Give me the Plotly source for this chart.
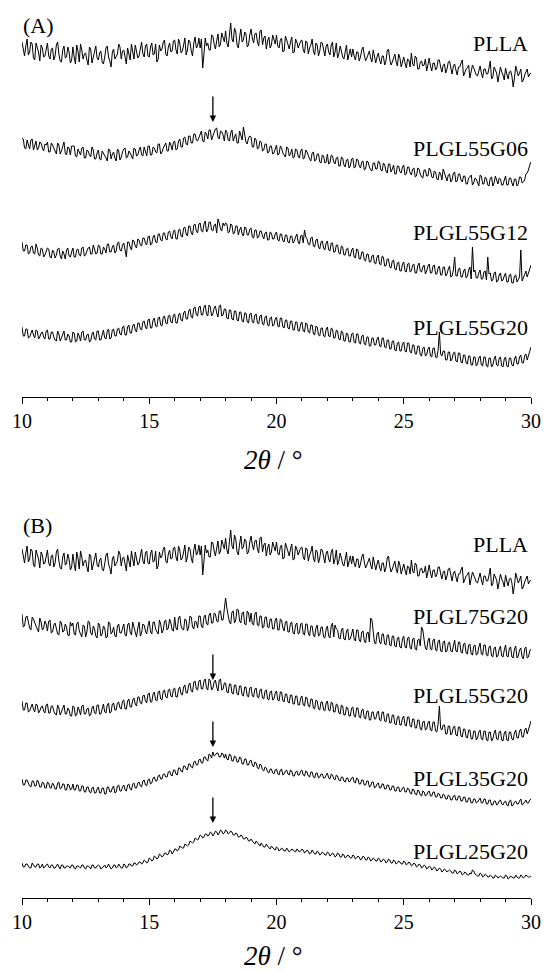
import plotly.graph_objects as go

# 2-theta grid: values read at 0.1 deg steps, plus the in-between (x.x5 deg) readings
two_theta_main = [round(10 + 0.1 * i, 2) for i in range(201)]
two_theta_mid = [round(10.05 + 0.1 * i, 2) for i in range(200)]

# Intensities (a.u., relative)
PLLA = [
    6, -8, 9, -4, 4, -12, 1, -13, 0, -8,
    5, -11, 0, -8, 6, -13, -2, -10, 1, -15,
    1, -16, -3, 4, -11, -5, -17, -1, -9, 2,
    -12, -3, -16, 0, -9, -19, -1, -8, 4, -11,
    -2, -16, -5, 4, -11, -3, -8, 6, -9, 4,
    -9, 5, -6, -14, 3, -1, 8, -8, 5, -3,
    8, -6, 5, -3, 10, -2, 6, -8, 11, 2,
    0, -20, 10, 5, -2, 12, -1, 14, 4, 10,
    17, 1, 25, 6, 16, 0, 19, 8, 14, 3,
    19, 5, 15, 2, 18, 10, -1, 11, 3, 8,
    13, 0, 10, -3, 8, -1, 11, -4, 6, 3,
    8, -5, 6, 0, 9, -7, 3, -3, 5, -8,
    4, -7, 6, -4, -10, 2, -9, -2, -12, -1,
    -1, -12, -4, -9, 1, -13, -5, -10, -2, -15,
    -5, -16, -8, -13, -1, -17, -9, -14, -6, -19,
    -9, -20, -12, -5, -18, -10, -21, -13, -17, -23,
    -10, -23, -15, -20, -12, -24, -16, -21, -13, -26,
    -16, -27, -19, -12, -25, -20, -30, -17, -24, -28,
    -18, -30, -21, -26, -13, -29, -22, -34, -19, -27,
    -20, -31, -23, -39, -18, -28, -21, -32, -24, -29,
    -25,
]
PLLA_mid = [
    -3, 2, -7, 6, -10, 5, -4, 3, -9, 1,
    -8, -1, -12, 3, -6, -14, 2, -9, -4, -12,
    -9, 3, -14, -2, -6, -12, 1, -15, -4, -10,
    -5, -14, -9, 2, -13, -4, -11, -6, 1, -3,
    -8, 0, -12, -6, 3, -10, -1, -6, 2, -8,
    1, -7, 4, -11, -3, 6, -6, 1, -4, 7,
    -2, 9, -5, 3, -7, 8, -3, 5, 0, 10,
    9, -6, 2, -2, 13, 4, 7, 1, 15, 6,
    5, 12, 9, 20, 3, 11, 6, 16, 1, 13,
    10, 14, 6, 17, 3, 12, 7, 0, 13, 4,
    2, 8, -4, 12, 3, 6, -5, 9, 0, 7,
    -2, 7, -6, 3, -3, 5, -8, 6, -1, 2,
    -4, 3, -9, 5, -6, -3, -11, 3, -6, -9,
    -8, -4, -13, -2, -7, -10, -3, -14, -7, -9,
    -12, -8, -17, -3, -11, -14, -6, -18, -10, -13,
    -15, -11, -19, -16, -8, -21, -14, -18, -11, -17,
    -18, -15, -22, -12, -19, -17, -25, -14, -20, -18,
    -22, -19, -15, -28, -21, -17, -24, -20, -27, -22,
    -25, -21, -26, -20, -31, -19, -25, -27, -24, -32,
    -26, -24, -28, -30, -23, -25, -34, -27, -21, -26,
]

PLGL55G06 = [
    5, -5, 3, -6, 4, -2, -7, 1, -5, -1,
    1, -9, -2, -8, 0, -11, -3, -10, -4, -12,
    -3, -13, -6, -12, -4, -15, -8, -14, -7, -16,
    -7, -17, -10, -15, -6, -16, -9, -18, -8, -14,
    -6, -15, -8, -14, -5, -13, -7, -12, -4, -13,
    -3, -12, -5, -10, -1, -9, -2, -8, 1, -7,
    2, -6, 4, -4, 6, -2, 7, 0, 9, 2,
    10, 2, 11, 4, 13, 7, 14, 6, 12, 8,
    13, 3, 10, 2, 9, 0, 8, 16, 1, 5,
    6, -4, 3, -5, 1, -7, -1, -9, -3, -10,
    -2, -11, -5, -12, -4, -13, -6, -14, -7, -15,
    -6, -15, -9, -16, -10, -18, -11, -19, -12, -20,
    -11, -20, -13, -21, -14, -23, -15, -24, -16, -23,
    -15, -24, -17, -25, -18, -26, -19, -27, -20, -26,
    -18, -27, -20, -28, -21, -29, -22, -31, -23, -30,
    -22, -31, -24, -32, -25, -33, -26, -34, -27, -33,
    -25, -34, -28, -36, -29, -37, -30, -38, -31, -37,
    -29, -38, -31, -39, -33, -41, -34, -42, -35, -40,
    -32, -41, -34, -42, -35, -43, -33, -41, -36, -42,
    -33, -42, -35, -43, -36, -41, -34, -39, -31, -27,
    -19,
]
PLGL55G06_mid = [
    4, -6, -1, 3, -7, 2, -5, 0, -8, -2,
    -9, 0, -6, -11, -2, -8, 1, -12, -5, -3,
    -3, -14, -9, -5, -15, -7, -12, -4, -16, -10,
    -16, -8, -13, -18, -7, -11, -15, -6, -17, -9,
    -5, -14, -10, -16, -6, -12, -4, -13, -9, -3,
    -12, -4, -9, -1, -11, -5, 0, -8, -2, 1,
    -7, 2, -4, 5, -1, 7, 0, 9, 3, 6,
    12, 1, 9, 13, 3, 10, 15, 4, 11, 2,
    11, 2, 13, 6, 0, 12, 3, 9, -1, 7,
    -4, 5, -6, 2, -8, -1, -10, -3, -11, -6,
    -12, -3, -10, -14, -5, -11, -15, -6, -13, -8,
    -16, -7, -14, -18, -9, -17, -11, -20, -13, -19,
    -21, -12, -19, -15, -23, -14, -22, -17, -25, -16,
    -25, -16, -23, -19, -27, -18, -24, -28, -20, -26,
    -19, -28, -22, -30, -21, -26, -31, -23, -29, -24,
    -32, -24, -30, -26, -34, -25, -31, -35, -27, -33,
    -27, -35, -29, -37, -31, -26, -36, -32, -39, -30,
    -39, -31, -37, -33, -41, -35, -32, -40, -36, -43,
    -33, -41, -36, -43, -34, -40, -38, -35, -42, -37,
    -42, -35, -40, -36, -43, -34, -40, -37, -30, -22,
]

PLGL55G12 = [
    5, -4, 2, -6, 1, -7, -1, -9, -2, -8,
    -1, -10, -3, -11, -2, -9, -4, -12, -1, -10,
    -1, -10, -2, -9, 0, -8, -1, -7, 2, -7,
    2, -7, 0, -6, 3, -5, 2, -4, 5, -4,
    4, -10, 5, -3, 6, -1, 7, 1, 9, 2,
    11, 3, 12, 4, 13, 6, 14, 7, 16, 8,
    17, 8, 18, 10, 20, 11, 21, 12, 23, 14,
    24, 15, 26, 17, 25, 16, 23, 28, 18, 24,
    24, 14, 23, 13, 21, 12, 20, 11, 19, 12,
    19, 9, 17, 10, 16, 8, 15, 7, 14, 8,
    15, 6, 13, 5, 12, 4, 11, 6, 13, 3,
    12, 17, 8, 2, 10, 0, 8, -2, 6, -3,
    6, -4, 4, -5, 2, -7, 0, -8, -1, -9,
    -1, -11, -3, -12, -5, -14, -7, -15, -8, -17,
    -8, -18, -10, -19, -12, -21, -13, -23, -15, -24,
    -15, -25, -16, -24, -17, -26, -16, -25, -18, -24,
    -17, -26, -18, -27, -19, -28, -20, -27, -19, -29,
    -10, -29, -21, -30, -22, -29, -20, 0, -23, -31,
    -23, -32, -24, -10, -26, -33, -25, -34, -26, -33,
    -26, -35, -27, -36, -28, -33, -3, -31, -24, -26,
    -18,
]
PLGL55G12_mid = [
    -4, 2, -7, 0, -6, 3, -8, -1, -10, -4,
    -2, -11, -5, -8, -1, -12, -7, -3, -9, -5,
    -10, -3, -8, -1, -9, -4, 0, -7, -2, -6,
    1, -7, -2, 3, -5, 0, -6, 4, -3, 2,
    -3, 5, 0, 7, 1, 8, 2, 9, 4, 10,
    2, 10, 5, 13, 7, 14, 8, 15, 10, 16,
    8, 17, 11, 19, 13, 21, 14, 22, 16, 23,
    16, 23, 15, 25, 17, 22, 14, 24, 16, 21,
    23, 15, 22, 14, 21, 17, 13, 20, 12, 18,
    10, 17, 9, 16, 11, 14, 7, 15, 8, 13,
    7, 13, 6, 12, 5, 11, 4, 10, 5, 11,
    4, 10, 3, 9, 1, 7, 0, 5, -1, 4,
    -3, 4, -5, 2, -6, 1, -8, -2, -9, -3,
    -10, -2, -12, -5, -13, -7, -15, -9, -16, -10,
    -17, -9, -19, -12, -20, -14, -22, -16, -24, -17,
    -24, -17, -25, -18, -26, -19, -24, -20, -27, -19,
    -26, -19, -27, -21, -28, -20, -29, -22, -30, -23,
    -29, -22, -30, -24, -31, -23, -32, -25, -31, -26,
    -32, -25, -33, -27, -34, -26, -35, -28, -34, -29,
    -35, -28, -36, -29, -35, -30, -34, -27, -30, -22,
]

PLGL55G20 = [
    5, -4, 3, -5, 2, -6, 1, -5, 0, -7,
    2, -7, 0, -8, 1, -9, -1, -8, -2, -10,
    0, -10, -1, -9, 1, -8, -2, -9, 0, -8,
    1, -8, 2, -7, 3, -6, 3, -4, 4, -3,
    6, -3, 7, -1, 8, 0, 9, 2, 11, 3,
    13, 4, 14, 5, 15, 6, 16, 8, 17, 9,
    18, 9, 19, 11, 21, 13, 23, 14, 25, 16,
    26, 17, 27, 16, 25, 18, 26, 15, 27, 17,
    23, 13, 22, 12, 21, 11, 20, 10, 19, 9,
    19, 9, 18, 8, 17, 7, 16, 6, 15, 7,
    15, 5, 14, 4, 12, 3, 11, 2, 10, 1,
    10, 0, 8, -1, 7, -3, 5, -4, 4, -5,
    5, -5, 3, -6, 1, -8, 0, -9, -2, -10,
    -1, -11, -2, -12, -3, -13, -5, -14, -6, -13,
    -5, -15, -6, -16, -8, -17, -9, -19, -10, -19,
    -10, -20, -11, -21, -13, -22, -14, -24, -15, -23,
    -15, -25, -16, -26, 0, -24, -19, -28, -20, -27,
    -20, -30, -21, -31, -23, -32, -24, -33, -25, -32,
    -24, -34, -25, -35, -26, -33, -24, -34, -25, -35,
    -25, -35, -26, -34, -24, -32, -23, -31, -22, -24,
    -15,
]
PLGL55G20_mid = [
    -4, 3, -6, 0, -3, 2, -7, -1, -5, 1,
    -7, 0, -5, -9, -2, -6, 1, -8, -4, -10,
    -1, -9, -4, 0, -8, -3, -10, -2, -7, 1,
    -8, -1, -6, 1, -7, 2, -4, 3, -2, 5,
    -3, 5, -1, 6, 2, 9, 3, 10, 5, 12,
    4, 12, 6, 14, 7, 15, 9, 16, 10, 17,
    9, 17, 12, 19, 13, 21, 15, 24, 17, 25,
    17, 25, 18, 27, 16, 24, 19, 26, 16, 23,
    14, 22, 13, 21, 12, 20, 11, 19, 10, 18,
    10, 17, 9, 16, 8, 15, 7, 14, 6, 13,
    6, 14, 5, 12, 4, 11, 2, 10, 1, 8,
    1, 9, 0, 7, -2, 6, -3, 4, -4, 3,
    -4, 4, -6, 2, -7, 1, -9, -1, -10, -2,
    -10, -2, -11, -4, -12, -5, -14, -6, -13, -7,
    -14, -6, -15, -8, -17, -9, -18, -11, -19, -12,
    -19, -11, -20, -13, -22, -14, -23, -16, -24, -17,
    -24, -16, -25, -18, -22, -19, -28, -20, -29, -21,
    -29, -21, -30, -23, -31, -24, -33, -25, -34, -26,
    -33, -25, -34, -26, -35, -27, -33, -26, -34, -27,
    -34, -26, -33, -27, -32, -25, -31, -24, -28, -18,
]

PLGL75G20 = [
    6, -6, 4, -8, 3, -4, -9, 2, -10, -1,
    -11, 0, -12, -3, -14, -1, -12, -4, -15, -2,
    -3, -15, -2, -14, -5, -17, -1, -13, -6, -16,
    -3, -16, -6, -18, -2, -14, -7, -17, -4, -13,
    -4, -16, -3, -15, -7, -17, -2, -13, -5, -14,
    -1, -14, -2, -12, 0, -13, -1, -10, 1, -10,
    3, -10, 4, -9, 1, -11, 4, -7, -1, -8,
    4, -8, 5, -5, 7, -3, 6, -2, 9, 0,
    22, 6, -4, 9, 0, 10, -3, 8, -5, 7,
    7, -5, 8, -6, 4, -7, 3, -8, 1, -9,
    2, -10, 0, -11, -1, -12, -2, -14, -3, -13,
    -3, -15, -4, -16, -6, -17, -5, -15, -7, -18,
    -6, -18, -3, -5, -10, -19, -8, -20, -9, -19,
    -9, -21, -10, -22, -11, -23, -12, 2, -13, -24,
    -12, -24, -14, -25, -15, -26, -16, -27, -17, -28,
    -16, -28, -17, -29, -18, -30, -19, -7, -20, -30,
    -18, -30, -19, -31, -20, -32, -21, -31, -22, -32,
    -20, -32, -22, -33, -23, -34, -24, -35, -25, -34,
    -23, -35, -25, -36, -26, -37, -27, -36, -26, -37,
    -25, -37, -27, -38, -26, -36, -28, -39, -27, -37,
    -29,
]
PLGL75G20_mid = [
    -7, 3, -3, -10, 1, -6, -12, -2, -8, -4,
    -1, -13, -5, -9, -15, -3, -11, -7, -16, -6,
    -14, -4, -11, -17, -6, -12, -2, -15, -9, -18,
    -5, -14, -8, -17, -3, -12, -16, -6, -13, -8,
    -15, -5, -12, -2, -14, -8, -16, -4, -11, -6,
    -12, -2, -9, -14, -4, -10, 0, -8, -3, -11,
    -8, 2, -6, -10, 0, -7, 3, -9, -2, 4,
    -6, 3, -4, 5, -3, 7, -1, 9, 0, 11,
    12, -2, 8, -3, 11, -1, 7, -4, 9, -2,
    -4, 6, -5, 4, -8, 3, -7, 1, -9, 0,
    -10, 1, -8, -2, -12, -3, -13, -5, -14, -4,
    -14, -4, -13, -6, -15, -8, -16, -7, -17, -9,
    -16, -6, -17, -9, -18, -10, -19, -11, -20, -12,
    -19, -10, -20, -12, -21, -13, -22, 0, -23, -14,
    -22, -14, -24, -15, -25, -16, -26, -18, -27, -19,
    -27, -18, -28, -19, -29, -20, -26, -10, -28, -21,
    -29, -20, -30, -21, -31, -22, -32, -23, -31, -24,
    -31, -22, -32, -24, -33, -25, -34, -26, -35, -27,
    -34, -25, -35, -27, -36, -28, -37, -29, -36, -30,
    -36, -28, -37, -29, -38, -30, -37, -29, -38, -31,
]

PLGL35G20 = [
    3, -3, 2, -4, 1, -4, 2, -5, 0, -6,
    0, -6, -1, -7, -1, -7, -2, -8, -2, -8,
    -2, -8, -3, -9, -4, -10, -5, -11, -5, -11,
    -5, -11, -6, -12, -5, -10, -4, -10, -3, -9,
    -3, -9, -2, -8, -1, -6, 0, -5, 2, -4,
    3, -1, 5, 1, 7, 3, 8, 5, 11, 6,
    12, 7, 14, 10, 16, 12, 18, 14, 21, 17,
    23, 19, 25, 21, 27, 30, 27, 29, 25, 28,
    28, 22, 27, 21, 25, 20, 24, 18, 23, 17,
    22, 15, 19, 13, 17, 11, 14, 9, 13, 8,
    13, 7, 13, 8, 12, 7, 11, 6, 11, 7,
    12, 6, 10, 5, 10, 4, 9, 5, 8, 4,
    9, 3, 7, 2, 6, 1, 5, 0, 4, 1,
    5, -1, 3, -2, 2, -3, 1, -4, 0, -5,
    -1, -6, -2, -7, -3, -8, -4, -9, -5, -9,
    -5, -10, -7, -12, -8, -13, -9, -14, -10, -13,
    -9, -14, -10, -15, -12, -16, -13, -17, -14, -18,
    -13, -18, -14, -19, -15, -20, -16, -21, -17, -20,
    -16, -21, -17, -22, -18, -23, -19, -22, -18, -23,
    -19, -24, -18, -23, -19, -22, -17, -22, -18, -21,
    -17,
]
PLGL35G20_mid = [
    -3, 2, -2, -5, 1, -4, 0, -5, -1, -6,
    -1, -6, -3, -7, 0, -6, -2, -8, -3, -7,
    -8, -3, -9, -4, -10, -5, -10, -6, -11, -7,
    -11, -6, -12, -5, -10, -6, -11, -4, -9, -5,
    -8, -3, -7, -2, -6, -1, -4, 1, -3, 2,
    -2, 4, 1, 6, 3, 8, 5, 10, 7, 12,
    8, 14, 11, 16, 13, 18, 15, 20, 17, 22,
    19, 25, 22, 28, 24, 26, 29, 25, 29, 24,
    23, 28, 21, 26, 20, 25, 18, 23, 17, 21,
    17, 20, 14, 18, 12, 15, 10, 13, 9, 12,
    8, 12, 7, 11, 8, 12, 6, 10, 7, 11,
    7, 11, 6, 10, 5, 9, 4, 8, 4, 7,
    4, 8, 3, 7, 2, 5, 1, 4, 0, 4,
    0, 4, -2, 2, -3, 1, -5, 0, -6, -2,
    -6, -2, -7, -3, -8, -4, -9, -5, -10, -6,
    -10, -6, -11, -7, -12, -8, -13, -9, -14, -10,
    -14, -10, -15, -11, -16, -12, -17, -13, -18, -14,
    -18, -14, -19, -15, -20, -16, -21, -17, -21, -18,
    -21, -17, -22, -18, -23, -19, -23, -19, -22, -20,
    -23, -19, -24, -20, -22, -19, -23, -20, -21, -18,
]

PLGL25G20 = [
    2, -2, 1, -3, 2, -2, 1, -3, 1, -2,
    1, -3, 0, -3, 1, -4, 0, -3, -1, -3,
    0, -4, -1, -3, 0, -4, -1, -4, 0, -3,
    0, -4, -1, -3, 1, -4, 0, -3, 1, -3,
    1, -3, 1, -1, 2, 0, 3, 1, 5, 2,
    7, 4, 9, 6, 11, 8, 12, 10, 15, 11,
    16, 14, 19, 17, 21, 19, 24, 22, 27, 25,
    30, 27, 31, 29, 33, 29, 34, 30, 35, 31,
    35, 31, 34, 30, 32, 28, 30, 26, 28, 24,
    26, 22, 24, 20, 22, 18, 21, 17, 19, 16,
    18, 14, 17, 14, 17, 13, 16, 14, 16, 13,
    16, 12, 15, 11, 15, 11, 14, 10, 13, 10,
    13, 9, 12, 8, 12, 8, 11, 7, 10, 7,
    10, 6, 9, 5, 9, 5, 8, 4, 7, 4,
    7, 3, 6, 2, 6, 2, 5, 1, 4, 1,
    4, 0, 3, -1, 2, -2, 1, -3, 0, -4,
    -1, -5, -2, -6, -3, -7, -4, -7, -5, -8,
    -5, -9, -6, -10, -7, -10, -8, -5, -9, -11,
    -8, -12, -9, -12, -10, -13, -10, -13, -11, -13,
    -10, -14, -11, -13, -10, -13, -10, -13, -10, -12,
    -11,
]
PLGL25G20_mid = [
    -2, 1, -1, -3, 0, -2, 1, -2, -3, 0,
    -2, 0, -3, -1, -2, 0, -3, -1, -2, 0,
    -3, -1, -2, 0, -3, -1, -2, 0, -3, -1,
    -1, -3, 0, -2, -1, -3, 0, -2, -1, -3,
    0, -2, 1, -1, 2, 1, 3, 2, 4, 3,
    6, 5, 8, 7, 10, 9, 12, 11, 14, 13,
    16, 15, 18, 17, 20, 20, 23, 23, 26, 27,
    29, 28, 31, 30, 32, 31, 33, 32, 34, 32,
    34, 32, 33, 30, 31, 28, 29, 26, 27, 24,
    24, 21, 22, 19, 20, 18, 19, 16, 17, 15,
    17, 15, 16, 14, 15, 14, 15, 13, 15, 14,
    15, 13, 14, 12, 13, 11, 13, 11, 12, 10,
    12, 10, 11, 9, 11, 8, 10, 8, 9, 7,
    9, 7, 8, 6, 8, 5, 7, 5, 6, 4,
    6, 4, 5, 3, 5, 2, 4, 2, 3, 1,
    3, 1, 2, 0, 1, -1, 0, -2, -1, -3,
    -2, -4, -3, -5, -4, -6, -5, -6, -6, -8,
    -6, -8, -7, -9, -8, -10, -9, -6, -10, -11,
    -9, -11, -10, -12, -11, -13, -11, -12, -12, -13,
    -11, -13, -12, -13, -12, -13, -11, -12, -11, -12,
]

x_ticks = [10, 15, 20, 25, 30]
x_tick_labels = ["10", "15", "20", "25", "30"]

series = {
    "PLLA": (PLLA, PLLA_mid),
    "PLGL55G06": (PLGL55G06, PLGL55G06_mid),
    "PLGL55G12": (PLGL55G12, PLGL55G12_mid),
    "PLGL55G20": (PLGL55G20, PLGL55G20_mid),
    "PLGL75G20": (PLGL75G20, PLGL75G20_mid),
    "PLGL35G20": (PLGL35G20, PLGL35G20_mid),
    "PLGL25G20": (PLGL25G20, PLGL25G20_mid),
}


def full_pattern(name):
    main, mid = series[name]
    xs, ys = [], []
    for i in range(len(main)):
        xs.append(two_theta_main[i]); ys.append(main[i])
        if i < len(mid):
            xs.append(two_theta_mid[i]); ys.append(mid[i])
    return xs, ys


# ---- layout / placement (not data) ----
panel_a = [("PLLA", 349, 354), ("PLGL55G06", 254, 249),
           ("PLGL55G12", 150, 165), ("PLGL55G20", 65, 70)]
panel_b = [("PLLA", 343, 354), ("PLGL75G20", 278, 282), ("PLGL55G20", 192, 203),
           ("PLGL35G20", 116, 120), ("PLGL25G20", 33, 47)]
arrows_a = [275]
arrows_b = [218, 151, 75]
arrow_x = 17.5

W, H = 544, 973

FONT = "Liberation Serif"
fig = go.Figure()
annotations = []

for (name, off, lab_y), (xa, ya) in [(p, ("x", "y")) for p in panel_a] + [(p, ("x2", "y2")) for p in panel_b]:
    xs, ys = full_pattern(name)
    fig.add_trace(go.Scatter(x=xs, y=[v + off for v in ys], mode="lines",
                             line=dict(color="black", width=1), xaxis=xa, yaxis=ya,
                             showlegend=False, hoverinfo="skip"))
    annotations.append(dict(x=30, y=lab_y, xref=xa, yref=ya, text=name, showarrow=False,
                            xanchor="right", yanchor="middle", xshift=-1,
                            font=dict(family=FONT, size=22, color="black")))

for tip in arrows_a:
    annotations.append(dict(x=arrow_x, y=tip, xref="x", yref="y", text="", showarrow=True,
                            ax=0, ay=-27, arrowhead=2, arrowsize=1, arrowwidth=1.3,
                            arrowcolor="black"))
for tip in arrows_b:
    annotations.append(dict(x=arrow_x, y=tip, xref="x2", yref="y2", text="", showarrow=True,
                            ax=0, ay=-27, arrowhead=2, arrowsize=1, arrowwidth=1.3,
                            arrowcolor="black"))

annotations.append(dict(x=10, y=372, xref="x", yref="y", text="(A)", showarrow=False,
                        xanchor="left", yanchor="middle", xshift=-1,
                        font=dict(family=FONT, size=22, color="black")))
annotations.append(dict(x=10, y=373, xref="x2", yref="y2", text="(B)", showarrow=False,
                        xanchor="left", yanchor="middle", xshift=-1,
                        font=dict(family=FONT, size=22, color="black")))
for ref_y in [460, 956]:
    annotations.append(dict(x=273 / W, y=1 - ref_y / H, xref="paper", yref="paper",
                            text="<i>2θ</i> / °", showarrow=False,
                            xanchor="center", yanchor="middle",
                            font=dict(family=FONT, size=27, color="black")))

xaxis_common = dict(range=[10, 30], domain=[22 / W, 531 / W], showline=True,
                    linecolor="black", linewidth=1.3, showgrid=False, zeroline=False,
                    ticks="outside", ticklen=6, tickwidth=1.3, tickcolor="black",
                    tickvals=x_ticks, ticktext=x_tick_labels, ticklabeloverflow="allow",
                    tickfont=dict(family=FONT, size=20, color="black"),
                    minor=dict(ticks="outside", ticklen=3, tickwidth=1.2,
                               tickcolor="black", dtick=1, showgrid=False),
                    mirror=False, fixedrange=True, automargin=False)
yaxis_common = dict(visible=False, showgrid=False, zeroline=False, fixedrange=True)

fig.update_layout(
    width=W, height=H,
    margin=dict(l=0, r=0, t=0, b=0, autoexpand=False),
    paper_bgcolor="white", plot_bgcolor="white",
    xaxis=dict(**xaxis_common, anchor="y"),
    yaxis=dict(**yaxis_common, domain=[1 - 397 / H, 1], range=[0, 397], anchor="x"),
    xaxis2=dict(**xaxis_common, anchor="y2"),
    yaxis2=dict(**yaxis_common, domain=[1 - 898 / H, 1 - 500 / H], range=[0, 398], anchor="x2"),
    annotations=annotations,
    showlegend=False,
)

# remove the browser's default 8 px page margin so the 544x973 figure fills the window
fig.write_html("out.html",
               config={"displayModeBar": False},
               post_script="document.body.style.margin='0';document.body.style.overflow='hidden';")
